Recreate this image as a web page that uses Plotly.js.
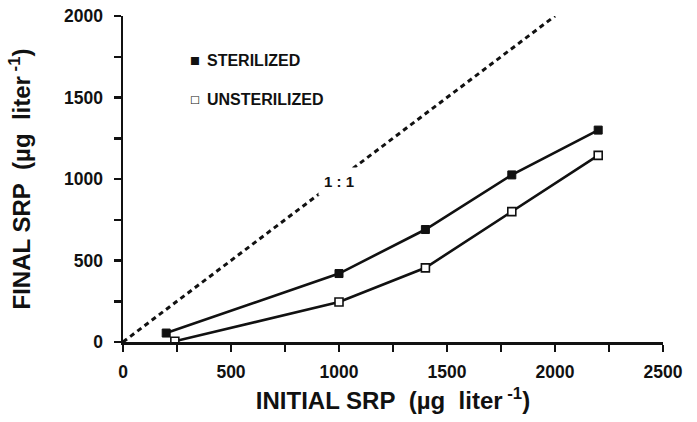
<!DOCTYPE html>
<html>
<head>
<meta charset="utf-8">
<script src="https://cdn.plot.ly/plotly-3.0.1.min.js"></script>
<style>html,body{margin:0;padding:0;background:#fff;}#chart{width:697px;height:422px;}</style>
</head>
<body>
<div id="chart"></div>
<script>
const sterilizedX = [200, 1000, 1400, 1800, 2200];
const sterilizedY = [55, 420, 690, 1025, 1300];
const unsterilizedX = [240, 1000, 1400, 1800, 2200];
const unsterilizedY = [5, 245, 455, 800, 1145];
const oneToOneX = [0, 2000];
const oneToOneY = [0, 2000];
const xTicks = [0, 500, 1000, 1500, 2000, 2500];
const yTicks = [0, 500, 1000, 1500, 2000];
const legendNames = ['STERILIZED', 'UNSTERILIZED'];
const legendGlyphs = ['\u25A0', '\u25A1'];

const FONT = 'Liberation Sans, Arial, Helvetica, sans-serif';
const NB = '\u00a0';

const traces = [
  {x: oneToOneX, y: oneToOneY, mode: 'lines', showlegend: false, hoverinfo: 'skip',
   line: {color: '#111', width: 3, dash: '5px,4px'}},
  {x: sterilizedX, y: sterilizedY, mode: 'lines+markers', name: legendNames[0], showlegend: false,
   line: {color: '#111', width: 2.6},
   marker: {symbol: 'square', size: 8, color: '#111', line: {color: '#111', width: 1}}},
  {x: unsterilizedX, y: unsterilizedY, mode: 'lines+markers', name: legendNames[1], showlegend: false,
   line: {color: '#111', width: 2.6},
   marker: {symbol: 'square', size: 8, color: '#fff', line: {color: '#111', width: 1.6}}}
];

const legendY = [0.865, 0.745];
const annotations = [
  {x: 1000, y: 982, xref: 'x', yref: 'y', text: '1' + NB + ':' + NB + '1', showarrow: false,
   bgcolor: '#fff', borderpad: 5,
   font: {family: FONT, size: 15, weight: 'bold', color: '#111'}}
];
legendNames.forEach((n, i) => {
  annotations.push({x: 0.1333, y: legendY[i], xref: 'paper', yref: 'paper', text: legendGlyphs[i],
    showarrow: false, xanchor: 'center', yanchor: 'middle',
    font: {family: 'DejaVu Sans', size: 10.5, color: '#111'}});
  annotations.push({x: 0.151, y: legendY[i], xref: 'paper', yref: 'paper', text: n,
    showarrow: false, xanchor: 'left', yanchor: 'middle',
    font: {family: FONT, size: 16, weight: 'bold', color: '#111'}});
});

const layout = {
  width: 697, height: 422,
  margin: {l: 123, r: 34, t: 16, b: 80},
  paper_bgcolor: '#fff', plot_bgcolor: '#fff',
  font: {family: FONT, color: '#111'},
  showlegend: false,
  xaxis: {
    range: [0, 2500], tickvals: xTicks, ticktext: xTicks.map(String),
    showgrid: false, zeroline: false, showline: true, linecolor: '#111', linewidth: 2.5,
    ticks: 'outside', ticklen: 7, tickwidth: 2.5, tickcolor: '#111',
    minor: {dtick: 250, ticks: 'outside', ticklen: 7, tickwidth: 2.5, tickcolor: '#111', showgrid: false},
    tickfont: {family: FONT, size: 17.5, weight: 'bold', color: '#111'},
    ticklabelstandoff: 5,
    title: {text: 'INITIAL SRP' + NB + NB + '(\u00b5g' + NB + NB + 'liter<sup>' + NB + '-1</sup>)', standoff: 12,
            font: {family: FONT, size: 24, weight: 'bold', color: '#111'}}
  },
  yaxis: {
    range: [0, 2000], tickvals: yTicks, ticktext: yTicks.map(String),
    showgrid: false, zeroline: false, showline: true, linecolor: '#111', linewidth: 2.5,
    ticks: 'outside', ticklen: 7, tickwidth: 2.5, tickcolor: '#111',
    minor: {dtick: 250, ticks: 'outside', ticklen: 7, tickwidth: 2.5, tickcolor: '#111', showgrid: false},
    tickfont: {family: FONT, size: 17.5, weight: 'bold', color: '#111'},
    ticklabelstandoff: 7,
    title: {text: 'FINAL SRP' + NB + NB + '(\u00b5g' + NB + NB + 'liter<sup>' + NB + '-1</sup>)', standoff: 27,
            font: {family: FONT, size: 24, weight: 'bold', color: '#111'}}
  },
  annotations: annotations
};

Plotly.newPlot('chart', traces, layout, {displayModeBar: false, staticPlot: true});
</script>
</body>
</html>
